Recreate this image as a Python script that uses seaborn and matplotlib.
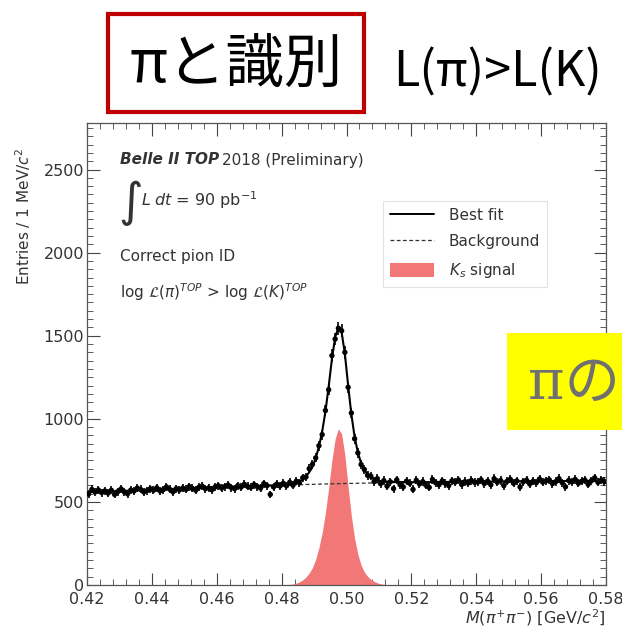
import numpy as np
import pandas as pd
import matplotlib
matplotlib.use("Agg")
import matplotlib.pyplot as plt
import seaborn as sns
from matplotlib.lines import Line2D
from matplotlib.patches import Patch, Rectangle
from matplotlib.ticker import MultipleLocator, FixedLocator

# ---------------- data ----------------
bin_lo = 0.42
bin_width = 0.001
counts = [
    548, 575, 560, 572, 556, 566, 553, 570, 545, 562,
    578, 560, 549, 571, 566, 583, 575, 560, 568, 579,
    570, 585, 566, 574, 590, 576, 561, 580, 572, 583,
    575, 592, 581, 570, 588, 595, 579, 584, 573, 590,
    597, 583, 592, 601, 586, 579, 598, 589, 606, 593,
    588, 604, 592, 583, 610, 598, 545, 590, 607, 596,
    612, 597, 618, 600, 624, 615, 645, 650, 700, 726,
    765, 838, 905, 1050, 1175, 1380, 1480, 1545, 1530, 1400,
    1190, 1035, 880, 795, 725, 695, 660, 655, 622, 640,
    610, 628, 595, 621, 580, 633, 604, 590, 625, 612,
    575, 630, 608, 622, 600, 587, 635, 615, 603, 626,
    611, 598, 627, 619, 632, 605, 622, 614, 629, 617,
    620, 633, 610, 625, 603, 640, 618, 629, 598, 624,
    636, 612, 627, 590, 621, 631, 608, 624, 615, 638,
    619, 627, 633, 610, 622, 640, 616, 591, 629, 621,
    635, 612, 624, 631, 606, 627, 645, 618, 630, 622,
]

bg_x = [0.42, 0.44, 0.46, 0.48, 0.50, 0.52, 0.54, 0.56, 0.58]
bg_y = [558, 573, 588, 601, 611, 618, 622, 625, 627]

sig_x = [0.4805, 0.4835, 0.4845, 0.4855, 0.4865, 0.4875, 0.4885, 0.4895,
         0.4905, 0.4915, 0.4925, 0.4935, 0.4945, 0.4955, 0.4965, 0.4975,
         0.4985, 0.4995, 0.5005, 0.5015, 0.5025, 0.5035, 0.5045, 0.5055,
         0.5065, 0.5075, 0.5085, 0.5095, 0.5105, 0.5135]
sig_y = [0, 6, 11, 19, 31, 48, 72, 105,
         155, 225, 315, 435, 585, 750, 880, 940,
         910, 780, 590, 415, 280, 185, 120, 78,
         52, 34, 22, 13, 7, 0]

fit_x = [0.42, 0.44, 0.46, 0.48, 0.4835, 0.4845, 0.4855, 0.4865, 0.4875,
         0.4885, 0.4895, 0.4905, 0.4915, 0.4925, 0.4935, 0.4945, 0.4955,
         0.4965, 0.4975, 0.4985, 0.4995, 0.5005, 0.5015, 0.5025, 0.5035,
         0.5045, 0.5055, 0.5065, 0.5075, 0.5085, 0.5095, 0.5105, 0.52,
         0.54, 0.56, 0.58]
fit_y = [558, 573, 588, 601, 609, 615, 623, 636, 653,
         678, 711, 762, 832, 923, 1043, 1194, 1359,
         1490, 1550, 1521, 1391, 1201, 1027, 892, 798,
         733, 692, 666, 649, 637, 629, 623, 618,
         622, 625, 627]

x_ticks = [0.42, 0.44, 0.46, 0.48, 0.50, 0.52, 0.54, 0.56, 0.58]
x_ticklabels = ["0.42", "0.44", "0.46", "0.48", "0.50", "0.52", "0.54", "0.56", "0.58"]
y_ticks = [0, 500, 1000, 1500, 2000, 2500]

# ---------------- style ----------------
sns.set_style("ticks")
plt.rcParams['font.family'] = ['DejaVu Sans', 'Noto Sans CJK JP']
plt.rcParams['mathtext.fontset'] = 'dejavusans'

fig = plt.figure(figsize=(6.22, 6.32), dpi=100)
fig.patch.set_facecolor("white")

W, H = 622.0, 632.0
L, R, T, B = 87, 606, 123, 585
ax = fig.add_axes([L / W, (H - B) / H, (R - L) / W, (B - T) / H])

centers = bin_lo + bin_width * (np.arange(len(counts)) + 0.5)
df = pd.DataFrame({"m": centers, "n": counts})

SIG = "#F27878"
TXT = "#333333"

# signal
ax.fill_between(sig_x, 0, sig_y, color=SIG, linewidth=0, zorder=1)
# background
sns.lineplot(x=bg_x, y=bg_y, ax=ax, color="#333333", linestyle=(0, (3, 2)),
             linewidth=0.9, zorder=2)
# best fit
sns.lineplot(x=fit_x, y=fit_y, ax=ax, color="black", linewidth=1.5, zorder=3)
# data
ax.errorbar(df["m"], df["n"], yerr=np.sqrt(df["n"]), fmt="none",
            ecolor="black", elinewidth=1.2, zorder=4)
sns.scatterplot(data=df, x="m", y="n", ax=ax, color="black", s=15,
                edgecolor="none", zorder=5)

ax.set_xlim(0.42, 0.58)
ax.set_ylim(0, 2780)
ax.xaxis.set_major_locator(FixedLocator(x_ticks))
ax.set_xticklabels(x_ticklabels)
ax.xaxis.set_minor_locator(MultipleLocator(0.004))
ax.yaxis.set_major_locator(FixedLocator(y_ticks))
ax.yaxis.set_minor_locator(MultipleLocator(50))
ax.tick_params(which="both", direction="in", top=True, right=True,
               colors="#444444", labelcolor=TXT)
ax.tick_params(which="major", length=9, width=0.8, labelsize=11.5)
ax.tick_params(which="minor", length=4, width=0.6)
ax.tick_params(axis="x", pad=5)
ax.tick_params(axis="y", pad=2)
for s in ax.spines.values():
    s.set_color("#555555")
    s.set_linewidth(0.9)
ax.set_xlabel("")
ax.set_ylabel("")

# axis titles
fig.text(R / W, 1 - 618 / H, r"$M(\pi^{+}\pi^{-})$ [GeV/$c^{2}$]", ha="right",
         va="center", fontsize=11.5, color=TXT)
fig.text(23 / W, 1 - 148 / H, r"Entries / 1 MeV/$c^{2}$", ha="center",
         va="top", rotation=90, fontsize=11, color=TXT)

# in-plot text
fig.text(120 / W, 1 - 160 / H, "Belle II TOP", ha="left", va="center",
         fontsize=11, fontweight="bold", fontstyle="italic", color=TXT)
fig.text(222 / W, 1 - 160 / H, "2018 (Preliminary)", ha="left", va="center",
         fontsize=11, color=TXT)
fig.text(118 / W, 1 - 203 / H, r"$\int$", ha="left", va="center",
         fontsize=24, color=TXT)
fig.text(141 / W, 1 - 200 / H, r"$L\;dt$ = 90 pb$^{-1}$", ha="left",
         va="center", fontsize=11.5, color=TXT)
fig.text(120 / W, 1 - 257 / H, "Correct pion ID", ha="left", va="center",
         fontsize=11, color=TXT)
fig.text(120 / W, 1 - 292 / H,
         r"log $\mathcal{L}(\pi)^{TOP}$ > log $\mathcal{L}(K)^{TOP}$",
         ha="left", va="center", fontsize=11, color=TXT)

# legend
handles = [Line2D([0], [0], color="black", linewidth=1.4),
           Line2D([0], [0], color="#333333", linestyle=(0, (3, 2)), linewidth=0.9),
           Patch(facecolor=SIG, edgecolor="none")]
labels = ["Best fit", "Background", r"$K_s$ signal"]
leg = fig.legend(handles, labels, loc="upper left",
                 bbox_to_anchor=(383 / W, 1 - 201 / H), fontsize=11,
                 frameon=True, fancybox=False, handlelength=2.9,
                 handleheight=1.0, labelspacing=0.75, borderpad=0.45,
                 borderaxespad=0.0, handletextpad=0.95)
leg.get_frame().set_edgecolor("#dddddd")
leg.get_frame().set_linewidth(0.8)
for t in leg.get_texts():
    t.set_color(TXT)

# slide overlays
fig.patches.append(Rectangle((108 / W, 1 - 112 / H), (364 - 108) / W, 98 / H,
                             transform=fig.transFigure, fill=False,
                             edgecolor="#C00000", linewidth=3.0, zorder=10))
fig.text(236 / W, 1 - 65 / H, "πと識別", ha="center", va="center",
         fontsize=42, family=["Noto Sans CJK JP", "DejaVu Sans"], color="black")
fig.text(497 / W, 1 - 73 / H, "L(π)>L(K)", ha="center", va="center",
         fontsize=35, family=["Noto Sans CJK JP", "DejaVu Sans"], color="black")

fig.patches.append(Rectangle((507 / W, 1 - 430 / H), 115 / W, 97 / H,
                             transform=fig.transFigure, facecolor="#FFFF00",
                             edgecolor="none", zorder=10))
fig.text(528 / W, 1 - 383 / H, "πの", ha="left", va="center", fontsize=40,
         family=["DejaVu Serif", "Noto Sans CJK JP"], color="#707070", zorder=11)

fig.savefig("out.png", dpi=100)
